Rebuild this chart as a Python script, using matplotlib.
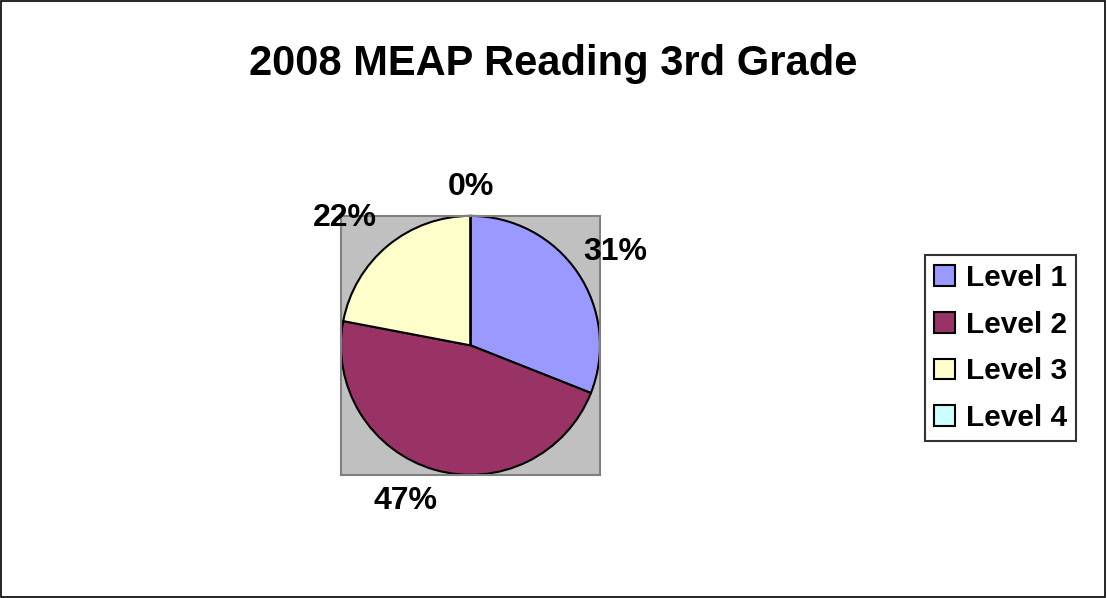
import matplotlib
matplotlib.use("Agg")
import matplotlib.pyplot as plt
from matplotlib.patches import Rectangle

plt.rcParams['font.family'] = ['Liberation Sans', 'DejaVu Sans']

# Data
title = "2008 MEAP Reading 3rd Grade"
levels = ["Level 1", "Level 2", "Level 3", "Level 4"]
shares = [31, 47, 22, 0]
colors = ["#9999FF", "#993366", "#FFFFCC", "#CCFFFF"]

# where Excel put the percent labels (axes data units, pie radius = 1)
label_pos = [(1.12, 0.72), (-0.50, -1.20), (-0.97, 0.98), (0.0, 1.22)]

fig = plt.figure(figsize=(11.07, 5.98), dpi=100)
fig.patch.set_facecolor("white")

# Outer chart border
fig.patches.append(Rectangle((0.0005, 0.001), 0.998, 0.997, transform=fig.transFigure,
                             fill=False, edgecolor="black", linewidth=1.2))

fig.text(0.5, 0.893, title, ha="center", va="center", fontsize=30, fontweight="bold")

# Plot area (gray square)
ax = fig.add_axes([0.308, 0.206, 0.234, 0.433])

wedges, texts = ax.pie(shares, colors=colors, startangle=90, counterclock=False,
                       labels=[f"{v}%" for v in shares], labeldistance=1.3,
                       wedgeprops=dict(edgecolor="black", linewidth=1.5),
                       textprops=dict(fontsize=23, fontweight="bold"))
for t, p in zip(texts, label_pos):
    t.set_ha("center")
    t.set_va("center")
    t.set_position(p)
ax.set_xlim(-1, 1)
ax.set_ylim(-1, 1)
ax.set_aspect("auto")
ax.set_xticks([])
ax.set_yticks([])
ax.set_frame_on(True)
ax.set_facecolor("#C0C0C0")
for s in ax.spines.values():
    s.set_visible(True)
    s.set_edgecolor("#808080")
    s.set_linewidth(1.5)

leg = fig.legend(wedges, levels, loc="center left", bbox_to_anchor=(0.836, 0.418),
                 frameon=True, fancybox=False, edgecolor="black",
                 prop=dict(size=21.5, weight="bold"), handlelength=0.7, handleheight=0.7,
                 handletextpad=0.35, labelspacing=0.63, borderpad=0.3, borderaxespad=0)
leg.get_frame().set_linewidth(1.5)

fig.savefig("out.png", dpi=100)
